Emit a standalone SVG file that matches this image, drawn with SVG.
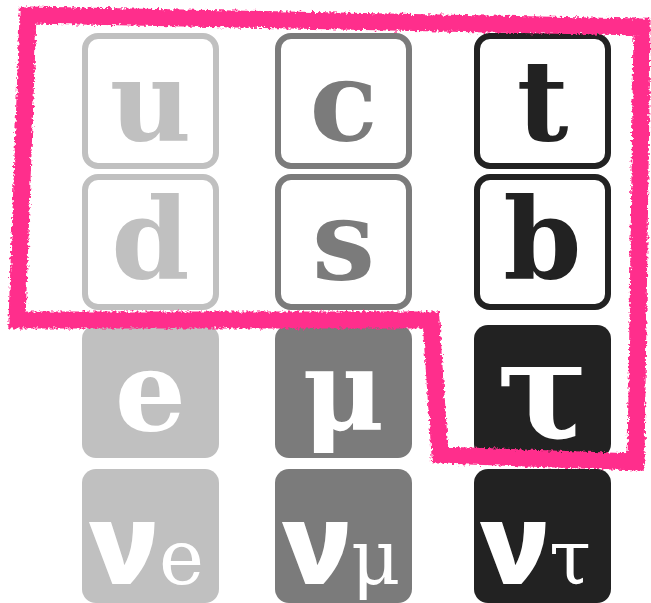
<svg xmlns="http://www.w3.org/2000/svg" width="651" height="603" viewBox="0 0 651 603">
<defs>
<style>
.o{fill:#fff;stroke-width:6}
.g1{stroke:#c0c0c0}.g2{stroke:#7b7b7b}.g3{stroke:#222}
.f1{fill:#c0c0c0}.f2{fill:#7b7b7b}.f3{fill:#222}
.L{font-family:"DejaVu Serif","Liberation Serif",serif;font-weight:bold;font-size:112px;text-anchor:middle}
.t1{fill:#c0c0c0}.t2{fill:#7b7b7b}.t3{fill:#222}
.W{fill:#fff}
.nu{font-family:"Open Sans","DejaVu Sans",sans-serif;font-weight:800;font-size:112px}
.sub{font-family:"DejaVu Serif","Liberation Serif",serif;font-size:76px}
</style>
<filter id="rough" x="-5%" y="-5%" width="110%" height="110%">
<feTurbulence type="fractalNoise" baseFrequency="0.35" numOctaves="2" seed="3" result="n"/>
<feDisplacementMap in="SourceGraphic" in2="n" scale="6" xChannelSelector="R" yChannelSelector="G"/>
</filter>
</defs>
<g id="u"><rect class="o g1" x="85" y="36" width="131" height="130" rx="13"/><text class="L t1" x="150.5" y="140">u</text></g>
<g id="c"><rect class="o g2" x="278" y="36" width="131" height="130" rx="13"/><text class="L t2" x="343.5" y="140">c</text></g>
<g id="t"><rect class="o g3" x="477" y="36" width="131" height="130" rx="13"/><text class="L t3" x="542.5" y="140">t</text></g>
<g id="d"><rect class="o g1" x="85" y="177" width="131" height="130" rx="13"/><text class="L t1" x="150.5" y="279">d</text></g>
<g id="s"><rect class="o g2" x="278" y="177" width="131" height="130" rx="13"/><text class="L t2" x="343.5" y="279">s</text></g>
<g id="b"><rect class="o g3" x="477" y="177" width="131" height="130" rx="13"/><text class="L t3" x="542.5" y="279">b</text></g>
<g id="e"><rect class="f1" x="82" y="325" width="137" height="133" rx="14"/><text class="L W" x="150.5" y="430">e</text></g>
<g id="mu"><rect class="f2" x="275" y="325" width="137" height="133" rx="14"/><text class="L W" x="343.5" y="430">μ</text></g>
<g id="tau"><rect class="f3" x="474" y="325" width="137" height="133" rx="14"/><text class="L W" x="542.5" y="438" style="font-size:136px">τ</text></g>
<g id="nue"><rect class="f1" x="82" y="469" width="137" height="134" rx="14"/><text class="nu W" x="89" y="584">ν</text><text class="sub W" x="159" y="584">e</text></g>
<g id="numu"><rect class="f2" x="275" y="469" width="137" height="134" rx="14"/><text class="nu W" x="282" y="584">ν</text><text class="sub W" x="351" y="584">μ</text></g>
<g id="nutau"><rect class="f3" x="474" y="469" width="137" height="134" rx="14"/><text class="nu W" x="480" y="584">ν</text><text class="sub W" x="549" y="584">τ</text></g>
<g id="connectors">
<path d="M28,15 L642,27 L636,462 L440,455 L431,320 L17,320 Z" fill="none" stroke="#ff2e8c" stroke-width="17" stroke-linejoin="miter" filter="url(#rough)"/>
</g>
</svg>
